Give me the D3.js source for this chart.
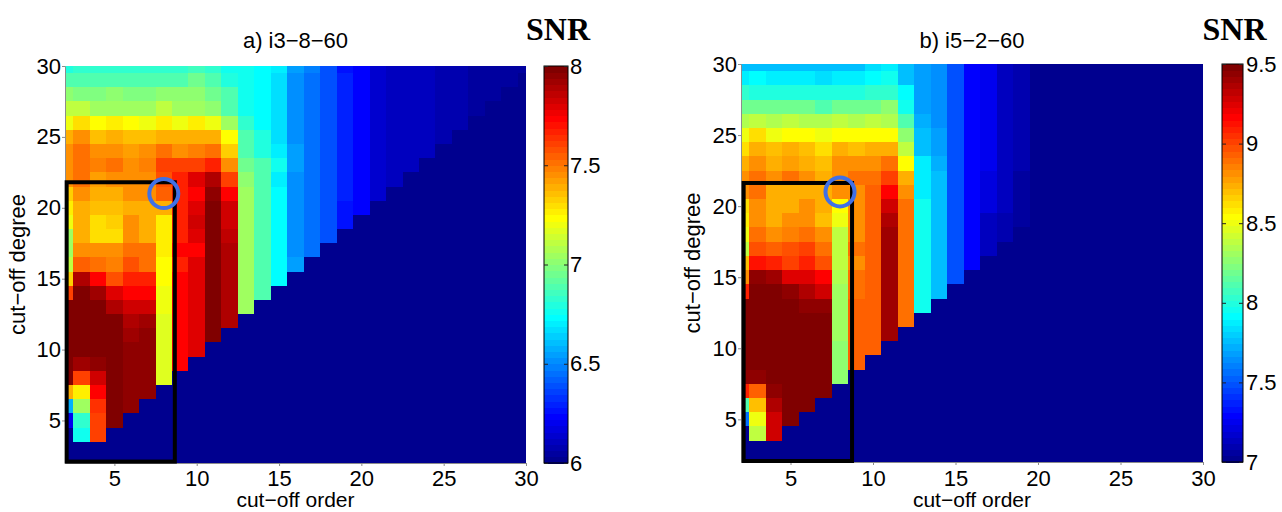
<!DOCTYPE html>
<html>
<head>
<meta charset="utf-8">
<script src="https://cdn.jsdelivr.net/npm/d3@7"></script>
<style>
  html, body { margin: 0; padding: 0; background: #fff; }
  svg { display: block; }
</style>
</head>
<body>
<svg id="chart" width="1282" height="512"></svg>
<script>
// Grid axes: cut-off order (columns) and cut-off degree (rows, listed top to bottom)
const orders = [2,3,4,5,6,7,8,9,10,11,12,13,14,15,16,17,18,19,20,21,22,23,24,25,26,27,28,29,30];
const degrees = [30,29,28,27,26,25,24,23,22,21,20,19,18,17,16,15,14,13,12,11,10,9,8,7,6,5,4,3,2];
const xTicks = [5,10,15,20,25,30];
const yTicks = [5,10,15,20,25,30];

const titleA = "a) i3\u22128\u221260";
const titleB = "b) i5\u22122\u221260";
const rangeA = [6, 8];
const rangeB = [7, 9.5];
const cbarTicksA = [6, 6.5, 7, 7.5, 8];
const cbarTicksB = [7, 7.5, 8, 8.5, 9, 9.5];

// Selected region (order from/to, degree from/to) and best cut-off (order, degree)
const boxA = [2.1, 8.67, 2.1, 21.8];
const boxB = [2.16, 8.73, 2.07, 21.63];
const bestA = [8, 21];
const bestB = [8, 21];

// SNR per cell, one row per degree (30 .. 2), one column per order (2 .. 30)
const snrA = [
[6.8,6.84,6.82,6.82,6.82,6.84,6.84,6.84,6.86,6.84,6.78,6.76,6.74,6.7,6.56,6.48,6.4,6.28,6.22,6.14,6.12,6.1,6.1,6.08,6.08,6.06,6.06,6.05,6.04],
[6.88,6.9,6.88,6.88,6.88,6.9,6.88,6.9,6.94,6.9,6.8,6.76,6.74,6.68,6.52,6.44,6.38,6.3,6.24,6.14,6.12,6.1,6.1,6.08,6.08,6.06,6.06,6.05,6],
[7,6.98,6.98,7,6.98,6.98,7,7,7,6.96,6.88,6.76,6.74,6.68,6.52,6.44,6.38,6.3,6.24,6.14,6.12,6.1,6.1,6.08,6.08,6.06,6.06,6,6],
[7.12,7.12,7.06,7.06,7.06,7.06,7.1,7.06,7.06,7,6.9,6.76,6.74,6.68,6.52,6.44,6.38,6.3,6.24,6.14,6.12,6.1,6.1,6.08,6.08,6.06,6,6,6],
[7.2,7.3,7.22,7.25,7.22,7.2,7.25,7.2,7.25,7.2,7.06,6.84,6.74,6.68,6.52,6.44,6.38,6.3,6.24,6.14,6.12,6.1,6.1,6.08,6.08,6,6,6,6],
[7.38,7.44,7.36,7.38,7.36,7.36,7.4,7.38,7.38,7.38,7.22,6.88,6.8,6.68,6.52,6.44,6.38,6.3,6.24,6.14,6.12,6.1,6.1,6.08,6,6,6,6,6],
[7.46,7.5,7.44,7.46,7.42,7.44,7.52,7.44,7.48,7.52,7.34,6.88,6.8,6.7,6.54,6.44,6.38,6.3,6.24,6.14,6.12,6.1,6.1,6,6,6,6,6,6],
[7.46,7.52,7.48,7.5,7.44,7.48,7.62,7.6,7.62,7.68,7.46,6.96,6.88,6.76,6.54,6.44,6.38,6.3,6.24,6.14,6.12,6.1,6,6,6,6,6,6,6],
[7.44,7.5,7.42,7.44,7.46,7.44,7.58,7.68,7.8,7.88,7.62,7,6.9,6.7,6.52,6.44,6.38,6.3,6.24,6.14,6.12,6,6,6,6,6,6,6,6],
[7.34,7.46,7.4,7.4,7.44,7.44,7.56,7.68,7.74,7.96,7.72,7.04,6.9,6.74,6.52,6.44,6.38,6.3,6.24,6.14,6,6,6,6,6,6,6,6,6],
[7.25,7.38,7.36,7.36,7.4,7.4,7.38,7.68,7.8,8,7.82,7.04,6.9,6.74,6.52,6.44,6.38,6.28,6.24,6,6,6,6,6,6,6,6,6,6],
[7.2,7.38,7.3,7.34,7.44,7.4,7.25,7.68,7.82,8,7.84,7.04,6.9,6.74,6.52,6.44,6.38,6.25,6,6,6,6,6,6,6,6,6,6,6],
[7.06,7.38,7.3,7.3,7.44,7.4,7.25,7.68,7.8,8,7.86,7.04,6.9,6.74,6.52,6.44,6.38,6,6,6,6,6,6,6,6,6,6,6,6],
[7.06,7.46,7.44,7.44,7.52,7.5,7.25,7.72,7.74,8,7.88,7.04,6.9,6.74,6.52,6.44,6,6,6,6,6,6,6,6,6,6,6,6,6],
[7.12,7.56,7.52,7.48,7.58,7.52,7.22,7.68,7.8,8,7.88,7.04,6.9,6.74,6.54,6,6,6,6,6,6,6,6,6,6,6,6,6,6],
[7.34,7.88,7.72,7.58,7.68,7.68,7.22,7.72,7.8,8,7.88,7.04,6.9,6.74,6,6,6,6,6,6,6,6,6,6,6,6,6,6,6],
[7.62,8,7.92,7.8,7.74,7.74,7.2,7.72,7.8,8,7.88,7.04,6.9,6,6,6,6,6,6,6,6,6,6,6,6,6,6,6,6],
[8,8,8,7.88,7.82,7.84,7.2,7.74,7.8,8,7.88,7.04,6,6,6,6,6,6,6,6,6,6,6,6,6,6,6,6,6],
[8,8,8,8,7.88,7.92,7.18,7.74,7.8,8,7.88,6,6,6,6,6,6,6,6,6,6,6,6,6,6,6,6,6,6],
[8,8,8,8,7.92,7.94,7.18,7.74,7.8,8,6,6,6,6,6,6,6,6,6,6,6,6,6,6,6,6,6,6,6],
[8,8,8,8,7.94,7.96,7.18,7.74,7.8,6,6,6,6,6,6,6,6,6,6,6,6,6,6,6,6,6,6,6,6],
[8,7.92,7.94,8,7.94,7.96,7.18,7.74,6,6,6,6,6,6,6,6,6,6,6,6,6,6,6,6,6,6,6,6,6],
[8,7.62,7.82,8,7.94,7.96,7.18,6,6,6,6,6,6,6,6,6,6,6,6,6,6,6,6,6,6,6,6,6,6],
[7.38,7.25,7.72,8,7.94,7.96,6,6,6,6,6,6,6,6,6,6,6,6,6,6,6,6,6,6,6,6,6,6,6],
[6.58,7.04,7.64,8,7.94,6,6,6,6,6,6,6,6,6,6,6,6,6,6,6,6,6,6,6,6,6,6,6,6],
[6.2,6.84,7.62,8,6,6,6,6,6,6,6,6,6,6,6,6,6,6,6,6,6,6,6,6,6,6,6,6,6],
[6.02,6.76,7.62,6,6,6,6,6,6,6,6,6,6,6,6,6,6,6,6,6,6,6,6,6,6,6,6,6,6],
[6,6,6,6,6,6,6,6,6,6,6,6,6,6,6,6,6,6,6,6,6,6,6,6,6,6,6,6,6],
[6,6,6,6,6,6,6,6,6,6,6,6,6,6,6,6,6,6,6,6,6,6,6,6,6,6,6,6,6]
];

const snrB = [
[7.75,7.78,7.78,7.78,7.78,7.78,7.78,7.78,7.85,7.88,7.78,7.68,7.65,7.48,7.31,7.25,7.15,7.08,7,7,7,7,7,7,7,7,7,7,7],
[7.88,7.9,7.88,7.88,7.88,7.85,7.88,7.88,7.93,7.94,7.78,7.68,7.65,7.48,7.31,7.25,7.15,7.08,7,7,7,7,7,7,7,7,7,7,7],
[8.05,8,8,8,8,8,8,8,8.05,8.05,7.9,7.68,7.65,7.48,7.31,7.25,7.15,7.08,7,7,7,7,7,7,7,7,7,7,7],
[8.18,8.2,8.18,8.18,8.18,8.13,8.18,8.2,8.2,8.25,7.94,7.68,7.65,7.48,7.31,7.25,7.15,7.08,7,7,7,7,7,7,7,7,7,7,7],
[8.33,8.4,8.33,8.38,8.33,8.33,8.38,8.33,8.38,8.33,8.1,7.73,7.65,7.48,7.31,7.25,7.15,7.08,7,7,7,7,7,7,7,7,7,7,7],
[8.5,8.63,8.5,8.56,8.53,8.5,8.56,8.53,8.56,8.56,8.25,7.75,7.68,7.48,7.31,7.25,7.15,7.08,7,7,7,7,7,7,7,7,7,7,7],
[8.63,8.75,8.7,8.73,8.68,8.63,8.75,8.68,8.73,8.75,8.38,7.78,7.68,7.48,7.31,7.25,7.15,7.08,7,7,7,7,7,7,7,7,7,7,7],
[8.73,8.83,8.75,8.78,8.73,8.68,8.8,8.8,8.8,8.88,8.53,7.88,7.73,7.5,7.31,7.25,7.15,7.08,7,7,7,7,7,7,7,7,7,7,7],
[8.8,8.9,8.83,8.88,8.8,8.73,8.83,8.88,8.9,9.03,8.73,7.88,7.75,7.5,7.31,7.2,7.13,7.05,7,7,7,7,7,7,7,7,7,7,7],
[8.83,8.88,8.73,8.73,8.75,8.75,8.83,8.83,8.95,9.18,8.8,7.88,7.75,7.5,7.3,7.2,7.13,7.05,7,7,7,7,7,7,7,7,7,7,7],
[8.63,8.83,8.73,8.75,8.8,8.73,8.56,8.83,8.95,9.28,8.88,7.94,7.75,7.5,7.3,7.2,7.13,7.05,7,7,7,7,7,7,7,7,7,7,7],
[8.58,8.83,8.73,8.8,8.8,8.7,8.5,8.83,8.95,9.35,8.88,7.94,7.78,7.5,7.3,7.15,7.08,7.05,7,7,7,7,7,7,7,7,7,7,7],
[8.5,8.88,8.8,8.85,8.88,8.8,8.4,8.83,8.95,9.4,8.88,7.94,7.78,7.5,7.3,7.15,7.08,7,7,7,7,7,7,7,7,7,7,7,7],
[8.4,8.98,8.95,8.98,9.03,8.9,8.38,8.88,8.95,9.4,8.9,7.94,7.78,7.5,7.3,7.15,7,7,7,7,7,7,7,7,7,7,7,7,7],
[8.68,9.13,9.1,9.03,9.08,8.98,8.38,8.83,8.95,9.4,8.9,7.94,7.78,7.5,7.3,7,7,7,7,7,7,7,7,7,7,7,7,7,7],
[8.8,9.43,9.4,9.25,9.25,9.18,8.33,8.9,8.95,9.4,8.9,7.94,7.78,7.5,7,7,7,7,7,7,7,7,7,7,7,7,7,7,7],
[9.1,9.5,9.5,9.43,9.35,9.3,8.3,8.9,8.95,9.4,8.9,7.94,7.78,7,7,7,7,7,7,7,7,7,7,7,7,7,7,7,7],
[9.5,9.5,9.5,9.5,9.45,9.45,8.3,8.95,8.95,9.4,8.9,7.94,7,7,7,7,7,7,7,7,7,7,7,7,7,7,7,7,7],
[9.5,9.5,9.5,9.5,9.5,9.5,8.3,8.95,8.95,9.4,8.9,7,7,7,7,7,7,7,7,7,7,7,7,7,7,7,7,7,7],
[9.5,9.5,9.5,9.5,9.5,9.5,8.3,8.95,8.95,9.4,7,7,7,7,7,7,7,7,7,7,7,7,7,7,7,7,7,7,7],
[9.5,9.5,9.5,9.5,9.5,9.5,8.25,8.95,8.95,7,7,7,7,7,7,7,7,7,7,7,7,7,7,7,7,7,7,7,7],
[9.5,9.5,9.5,9.5,9.5,9.5,8.25,8.95,7,7,7,7,7,7,7,7,7,7,7,7,7,7,7,7,7,7,7,7,7],
[9.45,9.43,9.5,9.5,9.5,9.5,8.25,7,7,7,7,7,7,7,7,7,7,7,7,7,7,7,7,7,7,7,7,7,7],
[9.1,8.95,9.45,9.5,9.5,9.5,7,7,7,7,7,7,7,7,7,7,7,7,7,7,7,7,7,7,7,7,7,7,7],
[8.1,8.68,9.35,9.5,9.5,7,7,7,7,7,7,7,7,7,7,7,7,7,7,7,7,7,7,7,7,7,7,7,7],
[7.55,8.5,9.3,9.5,7,7,7,7,7,7,7,7,7,7,7,7,7,7,7,7,7,7,7,7,7,7,7,7,7],
[7.03,8.4,9.3,7,7,7,7,7,7,7,7,7,7,7,7,7,7,7,7,7,7,7,7,7,7,7,7,7,7],
[7,7,7,7,7,7,7,7,7,7,7,7,7,7,7,7,7,7,7,7,7,7,7,7,7,7,7,7,7],
[7,7,7,7,7,7,7,7,7,7,7,7,7,7,7,7,7,7,7,7,7,7,7,7,7,7,7,7,7]
];

// 64-step jet colour map
function jetColors(n) {
  const out = [];
  for (let i = 0; i < n; i++) {
    const r = i < 24 ? 0 : i < 40 ? (i - 23) / 16 : i < 56 ? 1 : 1 - (i - 55) / 16;
    const g = i < 8 ? 0 : i < 24 ? (i - 7) / 16 : i < 40 ? 1 : i < 56 ? 1 - (i - 39) / 16 : 0;
    const b = i < 8 ? 0.5 + (i + 1) / 16 : i < 24 ? 1 : i < 40 ? 1 - (i - 23) / 16 : 0;
    out.push(d3.rgb(Math.round(r * 255), Math.round(g * 255), Math.round(b * 255)).formatHex());
  }
  return out;
}
const jet = jetColors(64);

const SANS = "'Liberation Sans', Arial, Helvetica, sans-serif";
const SERIF = "'Liberation Serif', 'Times New Roman', serif";
const svg = d3.select("#chart");

const panels = [
  { id: "a", title: titleA, values: snrA, range: rangeA, cbarTicks: cbarTicksA, box: boxA, best: bestA,
    L: 65, R: 526, T: 66, B: 463, cbL: 544, cbR: 568, cbPad: 2, xPad: 4, ylabX: 25 },
  { id: "b", title: titleB, values: snrB, range: rangeB, cbarTicks: cbarTicksB, box: boxB, best: bestB,
    L: 741, R: 1203, T: 64, B: 462, cbL: 1222, cbR: 1243, cbPad: 3, xPad: 5, ylabX: 700 }
];

function styleAxis(g) {
  g.attr("font-size", 22).attr("font-family", SANS);
  g.selectAll("text").attr("fill", "#000");
}

panels.forEach(p => {
  const x = d3.scaleLinear().domain([2, 30]).range([p.L, p.R]);
  const y = d3.scaleLinear().domain([2, 30]).range([p.B, p.T]);
  const color = d3.scaleQuantize().domain(p.range).range(jet);

  // heat map cells, clipped to the axes box
  svg.append("clipPath").attr("id", "clip-" + p.id)
    .append("rect").attr("x", p.L).attr("y", p.T).attr("width", p.R - p.L).attr("height", p.B - p.T);

  const cells = [];
  degrees.forEach((d, i) => orders.forEach((o, j) => cells.push({ o, d, v: p.values[i][j] })));

  svg.append("g").attr("clip-path", `url(#clip-${p.id})`)
    .selectAll("rect").data(cells).join("rect")
    .attr("x", c => x(c.o - 0.5))
    .attr("y", c => y(c.d + 0.5))
    .attr("width", c => x(c.o + 0.5) - x(c.o - 0.5) + 0.6)
    .attr("height", c => y(c.d - 0.5) - y(c.d + 0.5) + 0.6)
    .attr("fill", c => color(c.v))
    .attr("shape-rendering", "crispEdges");

  // axes
  const gx = svg.append("g").attr("transform", `translate(0,${p.B})`)
    .call(d3.axisBottom(x).tickValues(xTicks).tickSizeInner(3).tickSizeOuter(0).tickPadding(p.xPad));
  const gy = svg.append("g").attr("transform", `translate(${p.L},0)`)
    .call(d3.axisLeft(y).tickValues(yTicks).tickSizeInner(3).tickSizeOuter(0).tickPadding(1));
  [gx, gy].forEach(g => {
    styleAxis(g);
    g.select(".domain").attr("stroke", "#8c8c8c");
    g.selectAll(".tick line").attr("stroke", "#8c8c8c");
  });

  // selected region and best cut-off
  svg.append("rect")
    .attr("x", x(p.box[0])).attr("y", y(p.box[3]))
    .attr("width", x(p.box[1]) - x(p.box[0])).attr("height", y(p.box[2]) - y(p.box[3]))
    .attr("fill", "none").attr("stroke", "#000").attr("stroke-width", 4);
  svg.append("circle")
    .attr("cx", x(p.best[0])).attr("cy", y(p.best[1])).attr("r", 14.5)
    .attr("fill", "none").attr("stroke", "#4070e6").attr("stroke-width", 4);

  // titles and axis labels
  svg.append("text").attr("x", (p.L + p.R) / 2).attr("y", 48).attr("text-anchor", "middle")
    .attr("font-family", SANS).attr("font-size", 22).text(p.title);
  svg.append("text").attr("x", (p.L + p.R) / 2).attr("y", 507).attr("text-anchor", "middle")
    .attr("font-family", SANS).attr("font-size", 21).text("cut\u2212off order");
  svg.append("text").attr("transform", `translate(${p.ylabX},${(p.T + p.B) / 2}) rotate(-90)`)
    .attr("text-anchor", "middle").attr("font-family", SANS).attr("font-size", 22).text("cut\u2212off degree");

  // colour bar
  const cy = d3.scaleLinear().domain(p.range).range([p.B, p.T]);
  const step = (p.range[1] - p.range[0]) / jet.length;
  const bands = jet.map((c, i) => ({ c, lo: p.range[0] + i * step, hi: p.range[0] + (i + 1) * step }));
  const gc = svg.append("g");
  gc.selectAll("rect").data(bands).join("rect")
    .attr("x", p.cbL).attr("width", p.cbR - p.cbL)
    .attr("y", b => cy(b.hi)).attr("height", b => cy(b.lo) - cy(b.hi) + 0.6)
    .attr("fill", b => b.c).attr("shape-rendering", "crispEdges");
  gc.append("rect").attr("x", p.cbL).attr("y", p.T).attr("width", p.cbR - p.cbL).attr("height", p.B - p.T)
    .attr("fill", "none").attr("stroke", "#000").attr("stroke-width", 1);

  const gcr = svg.append("g").attr("transform", `translate(${p.cbR},0)`)
    .call(d3.axisRight(cy).tickValues(p.cbarTicks).tickSizeInner(-4).tickSizeOuter(0)
      .tickPadding(p.cbPad).tickFormat(d => String(d)));
  const gcl = svg.append("g").attr("transform", `translate(${p.cbL},0)`)
    .call(d3.axisLeft(cy).tickValues(p.cbarTicks).tickSizeInner(-4).tickSizeOuter(0).tickFormat(""));
  [gcr, gcl].forEach(g => {
    styleAxis(g);
    g.select(".domain").remove();
    g.selectAll(".tick line").attr("stroke", "#222");
  });

  svg.append("text").attr("x", (p.cbL + p.cbR) / 2 + 2).attr("y", 40).attr("text-anchor", "middle")
    .attr("font-family", SERIF).attr("font-weight", "bold").attr("font-size", 32).text("SNR");
});
</script>
</body>
</html>
